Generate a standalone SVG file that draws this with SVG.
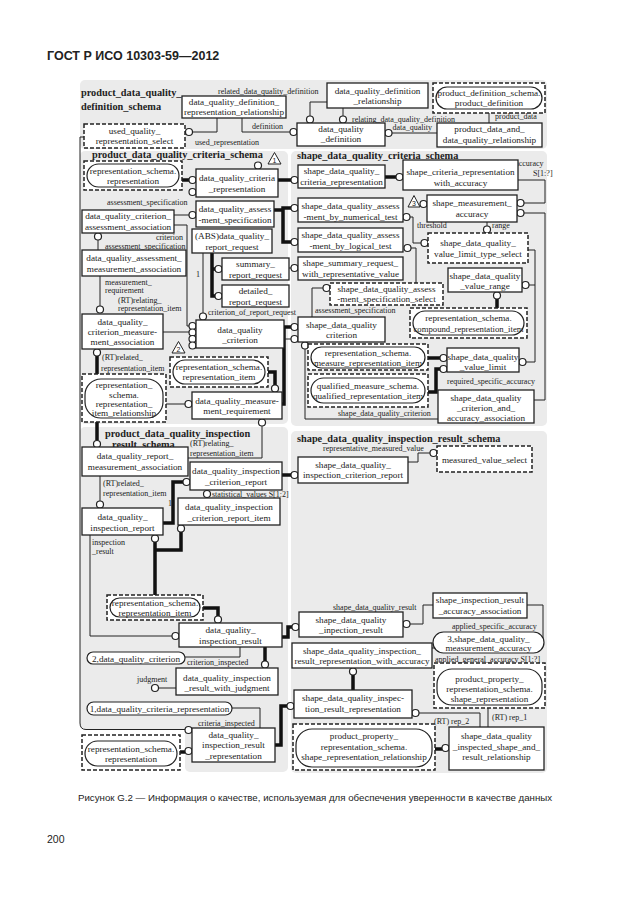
<svg xmlns="http://www.w3.org/2000/svg" width="630" height="913" viewBox="0 0 630 913">
<style>
.p{fill:#ebebeb}
.b{fill:#fff;stroke:#222;stroke-width:1.3}
.d{fill:#fff;stroke:#222;stroke-width:1.5;stroke-dasharray:4 2}
.r{fill:#fff;stroke:#222;stroke-width:1.2}
.c{fill:#fff;stroke:#222;stroke-width:1.2}
.l{fill:none;stroke:#222;stroke-width:1}
.t{fill:none;stroke:#111;stroke-width:3.5}
.tri{fill:#fff;stroke:#222;stroke-width:1}
text{font-family:'Liberation Serif','Times New Roman',serif;fill:#222}
.n{font-size:9.2px;text-anchor:middle}
.a{font-size:8px}
.h{font-size:10.3px;font-weight:bold}
.s{font-family:'Liberation Sans',Arial,sans-serif}
</style>
<rect width="630" height="913" fill="#fff"/>
<text class="s" x="47" y="60" font-size="12.5" font-weight="bold">ГОСТ Р ИСО 10303-59—2012</text>
<g id="panels">
<rect class="p" x="80" y="80" width="467" height="69" rx="5"/>
<rect class="p" x="80" y="151" width="208" height="273" rx="5"/>
<rect class="p" x="291" y="151" width="256" height="275" rx="5"/>
<rect class="p" x="80" y="427" width="208" height="302" rx="5"/>
<rect class="p" x="185" y="715" width="103" height="57" rx="5"/>
<rect class="p" x="291" y="431" width="256" height="342" rx="5"/>
</g>
<g id="titles">
<text class="h" x="81" y="96">product_data_quality_</text>
<text class="h" x="81" y="109.5">definition_schema</text>
<text class="h" x="92" y="158">product_data_quality_criteria_schema</text>
<text class="h" x="297" y="158.5">shape_data_quality_criteria_schema</text>
<text class="h" x="105" y="437">product_data_quality_inspection</text>
<text class="h" x="112" y="447.5">result_schema</text>
<text class="h" x="297" y="441.5">shape_data_quality_inspection_result_schema</text>
</g>
<g id="connectors">
<path class="l" d="M327,102H310V116"/>
<path class="l" d="M343,108V116"/>
<path class="l" d="M217,118V132H192.5"/>
<path class="l" d="M242,118V132H290"/>
<path class="l" d="M437,133H392"/>
<path class="l" d="M489,123V113"/>
<path class="l" d="M84,137H80V723Q80,729.5 86,729.5H185"/>
<path class="t" d="M182,180H189"/>
<path class="t" d="M278,180H291"/>
<path class="l" d="M174,215H189"/>
<path class="t" d="M274,210H283 M291,208H283V242H291"/>
<path class="l" d="M174,225H187V326H189"/>
<path class="l" d="M98,240V250"/>
<path class="t" d="M212,253V296H215 M212,269H215"/>
<path class="l" d="M289,268H291"/>
<path class="l" d="M203,253V313"/>
<path class="l" d="M100,276V306"/>
<path class="l" d="M163,332H189"/>
<path class="t" d="M97,356V374"/>
<path class="l" d="M166,404H185"/>
<path class="t" d="M268,372H275V385"/>
<path class="t" d="M282,404H284V327H291"/>
<path class="l" d="M284,339H291"/>
<path class="t" d="M97,422V440.5"/>
<path class="l" d="M188,458H262V426"/>
<path class="l" d="M100,476V501"/>
<path class="t" d="M163,523H173V482H183"/>
<path class="t" d="M282,475H291"/>
<path class="t" d="M181,532V550H155 M155,542V595"/>
<path class="l" d="M90,535V636H172"/>
<path class="t" d="M203,608H218V616"/>
<path class="t" d="M282,637H288V627H292"/>
<path class="t" d="M265,647V661"/>
<path class="l" d="M185,657H240V647"/>
<path class="l" d="M158.5,688H176"/>
<path class="l" d="M232,708H260V728"/>
<path class="t" d="M180,752H185"/>
<path class="t" d="M275,745H281V706H287"/>
<path class="t" d="M385,177H396"/>
<path class="l" d="M518,180H545V203H524"/>
<path class="l" d="M524,213H545V400H534"/>
<path class="l" d="M410,217H413V243H421"/>
<path class="l" d="M411,248H416V283"/>
<path class="l" d="M487,222V226"/>
<path class="l" d="M528,250H535V285H529 M535,285V362H526"/>
<path class="t" d="M497,299V308"/>
<path class="l" d="M323,288H312V317"/>
<path class="t" d="M428,358H440"/>
<path class="t" d="M428,392H436V369H440"/>
<path class="l" d="M305,349V419H438"/>
<path class="l" d="M408,462H418V453H430"/>
<path class="l" d="M410,624H423V605H433"/>
<path class="l" d="M527,605H543V640"/>
<path class="l" d="M432,648H434"/>
<path class="t" d="M353,675V690"/>
<path class="l" d="M419,713H480V727"/>
<path class="l" d="M488,708V727"/>
<path class="t" d="M435,749H442"/>
<circle class="c" cx="310" cy="119.5" r="3.5"/>
<circle class="c" cx="343" cy="119.5" r="3.5"/>
<circle class="c" cx="189" cy="132" r="3.5"/>
<circle class="c" cx="293.5" cy="132" r="3.5"/>
<circle class="c" cx="388.5" cy="133" r="3.5"/>
<circle class="c" cx="188.5" cy="730" r="3.5"/>
<circle class="c" cx="192.5" cy="180" r="3.5"/>
<circle class="c" cx="192.5" cy="192" r="3.5"/>
<circle class="c" cx="294.5" cy="180" r="3.5"/>
<circle class="c" cx="258" cy="165.5" r="3.5"/>
<circle class="c" cx="192.5" cy="215" r="3.5"/>
<circle class="c" cx="294.5" cy="208" r="3.5"/>
<circle class="c" cx="294.5" cy="242" r="3.5"/>
<circle class="c" cx="192.5" cy="326" r="3.5"/>
<circle class="c" cx="98" cy="236.5" r="3.5"/>
<circle class="c" cx="218.5" cy="269" r="3.5"/>
<circle class="c" cx="218.5" cy="296" r="3.5"/>
<circle class="c" cx="294.5" cy="268" r="3.5"/>
<circle class="c" cx="203" cy="316.5" r="3.5"/>
<circle class="c" cx="100" cy="309.5" r="3.5"/>
<circle class="c" cx="192.5" cy="332.5" r="3.5"/>
<circle class="c" cx="192.5" cy="339" r="3.5"/>
<circle class="c" cx="192.5" cy="345.5" r="3.5"/>
<circle class="c" cx="97" cy="352.5" r="3.5"/>
<circle class="c" cx="188.5" cy="404" r="3.5"/>
<circle class="c" cx="275" cy="388.5" r="3.5"/>
<circle class="c" cx="294.5" cy="327" r="3.5"/>
<circle class="c" cx="294.5" cy="339" r="3.5"/>
<circle class="c" cx="97" cy="444" r="3.5"/>
<circle class="c" cx="262" cy="422.5" r="3.5"/>
<circle class="c" cx="100" cy="504.5" r="3.5"/>
<circle class="c" cx="186.5" cy="482" r="3.5"/>
<circle class="c" cx="294.5" cy="475" r="3.5"/>
<circle class="c" cx="207" cy="494" r="3.5"/>
<circle class="c" cx="181" cy="528.5" r="3.5"/>
<circle class="c" cx="155" cy="538.5" r="3.5"/>
<circle class="c" cx="175.5" cy="636" r="3.5"/>
<circle class="c" cx="218" cy="619.5" r="3.5"/>
<circle class="c" cx="295.5" cy="627" r="3.5"/>
<circle class="c" cx="265" cy="664.5" r="3.5"/>
<circle class="c" cx="155" cy="688" r="3.5"/>
<circle class="c" cx="188.5" cy="751" r="3.5"/>
<circle class="c" cx="290.5" cy="706" r="3.5"/>
<circle class="c" cx="399.5" cy="177" r="3.5"/>
<circle class="c" cx="520.5" cy="203" r="3.5"/>
<circle class="c" cx="520.5" cy="213" r="3.5"/>
<circle class="c" cx="423.5" cy="204" r="3.5"/>
<circle class="c" cx="406.5" cy="217" r="3.5"/>
<circle class="c" cx="424.5" cy="243" r="3.5"/>
<circle class="c" cx="407.5" cy="248" r="3.5"/>
<circle class="c" cx="487" cy="229.5" r="3.5"/>
<circle class="c" cx="525.5" cy="285" r="3.5"/>
<circle class="c" cx="522.5" cy="362" r="3.5"/>
<circle class="c" cx="497" cy="295.5" r="3.5"/>
<circle class="c" cx="326.5" cy="288" r="3.5"/>
<circle class="c" cx="443.5" cy="358" r="3.5"/>
<circle class="c" cx="443.5" cy="369" r="3.5"/>
<circle class="c" cx="305" cy="345.5" r="3.5"/>
<circle class="c" cx="433.5" cy="453" r="3.5"/>
<circle class="c" cx="406.5" cy="624" r="3.5"/>
<circle class="c" cx="353" cy="671.5" r="3.5"/>
<circle class="c" cx="415.5" cy="713" r="3.5"/>
<circle class="c" cx="445.5" cy="748" r="3.5"/>
<polygon class="tri" points="268,164 274.5,152.5 281,164"/>
<text class="s" x="274.5" y="162.5" font-size="7" text-anchor="middle">1</text>
<polygon class="tri" points="172,353 178.5,341.5 185,353"/>
<text class="s" x="178.5" y="351.5" font-size="7" text-anchor="middle">2</text>
<polygon class="tri" points="408,207 414,195.5 420,207"/>
<text class="s" x="414" y="205.5" font-size="7" text-anchor="middle">3</text>
</g>
<g id="labels" class="a">
<text x="218" y="93.5">related_data_quality_definition</text>
<text x="252" y="129">definition</text>
<text x="195" y="145">used_representation</text>
<text x="352" y="121.5">relating_data_quality_definition</text>
<text x="432" y="130" text-anchor="end">data_quality</text>
<text x="495" y="119">product_data</text>
<text x="107" y="204.5">assessment_specification</text>
<text x="183" y="240" text-anchor="end">criterion</text>
<text x="105" y="249">assessment_specification</text>
<text x="196" y="277">1</text>
<text x="105" y="285">measurement_</text>
<text x="105" y="293">requirement</text>
<text x="118" y="303">(RT)relating_</text>
<text x="118" y="311">representation_item</text>
<text x="208" y="314.5">criterion_of_report_request</text>
<text x="102" y="360">(RT)related_</text>
<text x="101" y="371">representation_item</text>
<text x="190" y="446">(RT)relating_</text>
<text x="190" y="455.5">representation_item</text>
<text x="103" y="486">(RT)related_</text>
<text x="103" y="496">representation_item</text>
<text x="168" y="506">1</text>
<text x="212" y="496.5">statistical_values S[1:2]</text>
<text x="92" y="545">inspection</text>
<text x="92" y="554">_result</text>
<text x="187" y="665">criterion_inspected</text>
<text x="137" y="681.5">judgment</text>
<text x="198" y="725.5">criteria_inspected</text>
<text x="457" y="165.5">required_general_accuracy</text>
<text x="533" y="175.5">S[1:?]</text>
<text x="417" y="228">threshold</text>
<text x="492" y="227.5">range</text>
<text x="315" y="312.5">assessment_specification</text>
<text x="447" y="384">required_specific_accuracy</text>
<text x="338" y="416">shape_data_quality_criterion</text>
<text x="323" y="450.5">representative_measured_value</text>
<text x="333" y="609.5">shape_data_quality_result</text>
<text x="452" y="628.5">applied_specific_accuracy</text>
<text x="435" y="662">applied_general_accuracy S[1:?]</text>
<text x="434" y="723.5">(RT) rep_2</text>
<text x="492" y="719.5">(RT) rep_1</text>
</g>
<g id="dqd_representation_relationship"><rect class="b" x="182" y="96" width="104" height="22"/><text class="n"><tspan x="234" y="105">data_quality_definition_</tspan><tspan x="234" y="115">representation_relationship</tspan></text></g>
<g id="data_quality_definition_relationship"><rect class="b" x="327" y="83" width="101" height="25"/><text class="n"><tspan x="377.5" y="94">data_quality_definition</tspan><tspan x="377.5" y="104">_relationship</tspan></text></g>
<g id="data_quality_definition"><rect class="b" x="297" y="123" width="88" height="23"/><text class="n"><tspan x="341" y="132">data_quality</tspan><tspan x="341" y="142">_definition</tspan></text></g>
<g id="product_data_and_data_quality_relationship"><rect class="b" x="437" y="123" width="105" height="24"/><text class="n"><tspan x="489.5" y="132">product_data_and_</tspan><tspan x="489.5" y="142.5">data_quality_relationship</tspan></text></g>
<g id="product_definition"><rect class="d" x="433" y="83" width="112" height="30"/><rect class="r" x="436" y="87" width="106" height="22" rx="11"/><text class="n"><tspan x="489" y="95.5">product_definition_schema.</tspan><tspan x="489" y="105.5">product_definition</tspan></text></g>
<g id="used_quality_representation_select"><rect class="d" x="84" y="124" width="101" height="24"/><text class="n"><tspan x="134.5" y="133.5">used_quality_</tspan><tspan x="134.5" y="143.5">representation_select</tspan></text></g>
<g id="representation_top"><rect class="d" x="84" y="161" width="98" height="29"/><rect class="r" x="87" y="164" width="92" height="23" rx="11.5"/><text class="n"><tspan x="133" y="173.5">representation_schema.</tspan><tspan x="133" y="183.5">representation</tspan></text></g>
<g id="data_quality_criteria_representation"><rect class="b" x="196" y="169" width="82" height="28"/><text class="n"><tspan x="237" y="181">data_quality_criteria</tspan><tspan x="237" y="192">_representation</tspan></text></g>
<g id="data_quality_criterion_assessment_association"><rect class="b" x="82" y="210" width="92" height="23"/><text class="n"><tspan x="128" y="219">data_quality_criterion_</tspan><tspan x="128" y="229.5">assessment_association</tspan></text></g>
<g id="data_quality_assessment_specification"><rect class="b" x="196" y="201" width="78" height="26"/><text class="n"><tspan x="235" y="211.5">data_quality_assess</tspan><tspan x="235" y="222.5">-ment_specification</tspan></text></g>
<g id="data_quality_report_request"><rect class="b" x="192" y="229" width="80" height="24"/><text class="n"><tspan x="232" y="239">(ABS)data_quality_</tspan><tspan x="232" y="250">report_request</tspan></text></g>
<g id="summary_report_request"><rect class="b" x="222" y="258" width="67" height="22"/><text class="n"><tspan x="255.5" y="267">summary_</tspan><tspan x="255.5" y="277.5">report_request</tspan></text></g>
<g id="detailed_report_request"><rect class="b" x="222" y="285" width="67" height="22"/><text class="n"><tspan x="255.5" y="294">detailed_</tspan><tspan x="255.5" y="304.5">report_request</tspan></text></g>
<g id="data_quality_assessment_measurement_association"><rect class="b" x="82" y="250" width="104" height="26"/><text class="n"><tspan x="134" y="260.5">data_quality_assessment_</tspan><tspan x="134" y="271.5">measurement_association</tspan></text></g>
<g id="data_quality_criterion_measurement_association"><rect class="b" x="82" y="314" width="81" height="35"/><text class="n"><tspan x="122.5" y="324.5">data_quality_</tspan><tspan x="122.5" y="334.5">criterion_measure-</tspan><tspan x="122.5" y="344.5">ment_association</tspan></text></g>
<g id="data_quality_criterion"><rect class="b" x="196" y="320" width="88" height="28"/><text class="n"><tspan x="240" y="332.5">data_quality</tspan><tspan x="240" y="343">_criterion</tspan></text></g>
<g id="representation_item_1"><rect class="d" x="170" y="357" width="98" height="30"/><rect class="r" x="173" y="360" width="92" height="24" rx="12"/><text class="n"><tspan x="219" y="370">representation_schema.</tspan><tspan x="219" y="380">representation_item</tspan></text></g>
<g id="representation_item_relationship"><rect class="d" x="82" y="374" width="84" height="48"/><rect class="r" x="85" y="379" width="78" height="39" rx="16"/><text class="n"><tspan x="124" y="388">representation_</tspan><tspan x="124" y="397.5">schema.</tspan><tspan x="124" y="406.5">representation_</tspan><tspan x="124" y="415.5">item_relationship</tspan></text></g>
<g id="data_quality_measurement_requirement"><rect class="b" x="192" y="392" width="90" height="27"/><text class="n"><tspan x="237" y="403.5">data_quality_measure-</tspan><tspan x="237" y="414">ment_requirement</tspan></text></g>
<g id="data_quality_report_measurement_association"><rect class="b" x="82" y="447" width="106" height="29"/><text class="n"><tspan x="135" y="459">data_quality_report_</tspan><tspan x="135" y="470">measurement_association</tspan></text></g>
<g id="data_quality_inspection_report"><rect class="b" x="82" y="508" width="81" height="27"/><text class="n"><tspan x="122.5" y="520">data_quality_</tspan><tspan x="122.5" y="531">inspection_report</tspan></text></g>
<g id="data_quality_inspection_criterion_report"><rect class="b" x="190" y="462" width="92" height="28"/><text class="n"><tspan x="236" y="474">data_quality_inspection</tspan><tspan x="236" y="484.5">_criterion_report</tspan></text></g>
<g id="data_quality_inspection_criterion_report_item"><rect class="b" x="178" y="498" width="102" height="27"/><text class="n"><tspan x="229" y="510">data_quality_inspection</tspan><tspan x="229" y="520.5">_criterion_report_item</tspan></text></g>
<g id="representation_item_2"><rect class="d" x="107" y="595" width="96" height="25"/><rect class="r" x="110" y="598" width="90" height="19" rx="9.5"/><text class="n"><tspan x="155" y="606">representation_schema.</tspan><tspan x="155" y="615.5">representation_item</tspan></text></g>
<g id="data_quality_inspection_result"><rect class="b" x="179" y="623" width="103" height="24"/><text class="n"><tspan x="230.5" y="633">data_quality_</tspan><tspan x="230.5" y="644">inspection_result</tspan></text></g>
<g id="ref_data_quality_criterion"><rect class="r" x="87" y="652" width="98" height="12" rx="6"/><text class="n" x="136" y="661.5">2,data_quality_criterion</text></g>
<g id="data_quality_inspection_result_with_judgment"><rect class="b" x="176" y="668" width="102" height="27"/><text class="n"><tspan x="227" y="680.5">data_quality_inspection</tspan><tspan x="227" y="691">_result_with_judgment</tspan></text></g>
<g id="ref_data_quality_criteria_representation"><rect class="r" x="87" y="702" width="145" height="13" rx="6.5"/><text class="n" x="159.5" y="711.5">1,data_quality_criteria_representation</text></g>
<g id="data_quality_inspection_result_representation"><rect class="b" x="192" y="728" width="83" height="34"/><text class="n"><tspan x="233.5" y="737.5">data_quality_</tspan><tspan x="233.5" y="748">inspection_result</tspan><tspan x="233.5" y="758.5">_representation</tspan></text></g>
<g id="representation_bottom"><rect class="d" x="82" y="735" width="98" height="35"/><rect class="r" x="85" y="741" width="92" height="25" rx="12.5"/><text class="n"><tspan x="131" y="752">representation_schema.</tspan><tspan x="131" y="762">representation</tspan></text></g>
<g id="shape_data_quality_criteria_representation"><rect class="b" x="298" y="165" width="87" height="23"/><text class="n"><tspan x="341.5" y="174">shape_data_quality_</tspan><tspan x="341.5" y="184.5">criteria_representation</tspan></text></g>
<g id="shape_criteria_representation_with_accuracy"><rect class="b" x="403" y="160" width="115" height="30"/><text class="n"><tspan x="460.5" y="175">shape_criteria_representation</tspan><tspan x="460.5" y="186">with_accuracy</tspan></text></g>
<g id="shape_dq_assessment_by_numerical_test"><rect class="b" x="298" y="198" width="105" height="24"/><text class="n"><tspan x="350.5" y="208.5">shape_data_quality_assess</tspan><tspan x="350.5" y="219.5">-ment_by_numerical_test</tspan></text></g>
<g id="shape_dq_assessment_by_logical_test"><rect class="b" x="298" y="228" width="105" height="24"/><text class="n"><tspan x="350.5" y="238">shape_data_quality_assess</tspan><tspan x="350.5" y="249">-ment_by_logical_test</tspan></text></g>
<g id="shape_summary_request_with_representative_value"><rect class="b" x="298" y="257" width="105" height="23"/><text class="n"><tspan x="350.5" y="266">shape_summary_request_</tspan><tspan x="350.5" y="276.5">with_representative_value</tspan></text></g>
<g id="shape_measurement_accuracy"><rect class="b" x="427" y="195" width="90" height="27"/><text class="n"><tspan x="472" y="206">shape_measurement_</tspan><tspan x="472" y="217">accuracy</tspan></text></g>
<g id="shape_dq_value_limit_type_select"><rect class="d" x="428" y="233" width="100" height="30"/><text class="n"><tspan x="478" y="246">shape_data_quality_</tspan><tspan x="478" y="257">value_limit_type_select</tspan></text></g>
<g id="shape_dq_assessment_specification_select"><rect class="d" x="330" y="283" width="113" height="22"/><text class="n"><tspan x="386.5" y="291.5">shape_data_quality_assess</tspan><tspan x="386.5" y="302">-ment_specification_select</tspan></text></g>
<g id="shape_data_quality_value_range"><rect class="b" x="448" y="268" width="74" height="24"/><text class="n"><tspan x="485" y="278.5">shape_data_quality</tspan><tspan x="485" y="289">_value_range</tspan></text></g>
<g id="compound_representation_item"><rect class="d" x="410" y="308" width="117" height="30"/><rect class="r" x="413" y="311" width="111" height="24" rx="12"/><text class="n"><tspan x="468.5" y="321">representation_schema.</tspan><tspan x="468.5" y="332" font-size="8.7">compound_representation_item</tspan></text></g>
<g id="shape_data_quality_criterion"><rect class="b" x="298" y="317" width="87" height="25"/><text class="n"><tspan x="341.5" y="327.5">shape_data_quality</tspan><tspan x="341.5" y="338">criterion</tspan></text></g>
<g id="measure_representation_item"><rect class="d" x="308" y="344" width="120" height="26"/><rect class="r" x="311" y="347" width="114" height="21" rx="10.5"/><text class="n"><tspan x="368" y="356">representation_schema.</tspan><tspan x="368" y="366">measure_representation_item</tspan></text></g>
<g id="qualified_representation_item"><rect class="d" x="308" y="374" width="120" height="33"/><rect class="r" x="311" y="378" width="114" height="25" rx="12.5"/><text class="n"><tspan x="368" y="388.5">qualified_measure_schema.</tspan><tspan x="368" y="399">qualified_representation_item</tspan></text></g>
<g id="shape_data_quality_value_limit"><rect class="b" x="447" y="348" width="72" height="24"/><text class="n"><tspan x="483" y="359.5">shape_data_quality</tspan><tspan x="483" y="370">_value_limit</tspan></text></g>
<g id="shape_dq_criterion_and_accuracy_association"><rect class="b" x="438" y="390" width="96" height="33"/><text class="n"><tspan x="486" y="400.5">shape_data_quality</tspan><tspan x="486" y="410.5">_criterion_and_</tspan><tspan x="486" y="420.5">accuracy_association</tspan></text></g>
<g id="measured_value_select"><rect class="d" x="437" y="446" width="95" height="26"/><text class="n" x="484.5" y="462.5">measured_value_select</text></g>
<g id="shape_dq_inspection_criterion_report"><rect class="b" x="298" y="457" width="110" height="26"/><text class="n"><tspan x="353" y="467.5">shape_data_quality_</tspan><tspan x="353" y="478">inspection_criterion_report</tspan></text></g>
<g id="shape_inspection_result_accuracy_association"><rect class="b" x="433" y="593" width="94" height="25"/><text class="n"><tspan x="480" y="603">shape_inspection_result</tspan><tspan x="480" y="614">_accuracy_association</tspan></text></g>
<g id="shape_data_quality_inpection_result"><rect class="b" x="299" y="612" width="104" height="25"/><text class="n"><tspan x="351" y="622.5">shape_data_quality</tspan><tspan x="351" y="633">_inpection_result</tspan></text></g>
<g id="ref_shape_measurement_accuracy"><rect class="r" x="433" y="632" width="111" height="21" rx="10.5"/><text class="n"><tspan x="488.5" y="641.5">3,shape_data_quality_</tspan><tspan x="488.5" y="651">measurement_accuracy</tspan></text></g>
<g id="shape_dq_inspection_result_representation_with_accuracy"><rect class="b" x="292" y="643" width="140" height="25"/><text class="n"><tspan x="362" y="653.5">shape_data_quality_inspection_</tspan><tspan x="362" y="664">result_representation_with_accuracy</tspan></text></g>
<g id="shape_representation"><rect class="d" x="434" y="663" width="111" height="45"/><rect class="r" x="437" y="669" width="105" height="36" rx="15"/><text class="n"><tspan x="489.5" y="682">product_property_</tspan><tspan x="489.5" y="692">representation_schema.</tspan><tspan x="489.5" y="702">shape_representation</tspan></text></g>
<g id="shape_dq_inspection_result_representation"><rect class="b" x="294" y="690" width="118" height="28"/><text class="n"><tspan x="353" y="700.5">shape_data_quality_inspec-</tspan><tspan x="353" y="711.5">tion_result_representation</tspan></text></g>
<g id="shape_representation_relationship"><rect class="d" x="293" y="724" width="142" height="46"/><rect class="r" x="296" y="729" width="136" height="38" rx="16"/><text class="n"><tspan x="364" y="739">product_property_</tspan><tspan x="364" y="749.5">representation_schema.</tspan><tspan x="364" y="760">shape_representation_relationship</tspan></text></g>
<g id="shape_dq_inspected_shape_and_result_relationship"><rect class="b" x="449" y="727" width="95" height="43"/><text class="n"><tspan x="496.5" y="739">shape_data_quality</tspan><tspan x="496.5" y="749.5">_inspected_shape_and_</tspan><tspan x="496.5" y="760">result_relationship</tspan></text></g>
<text class="s" x="78" y="801" font-size="9.7">Рисунок G.2 — Информация о качестве, используемая для обеспечения уверенности в качестве данных</text>
<text class="s" x="47" y="843" font-size="10.5">200</text>
</svg>
